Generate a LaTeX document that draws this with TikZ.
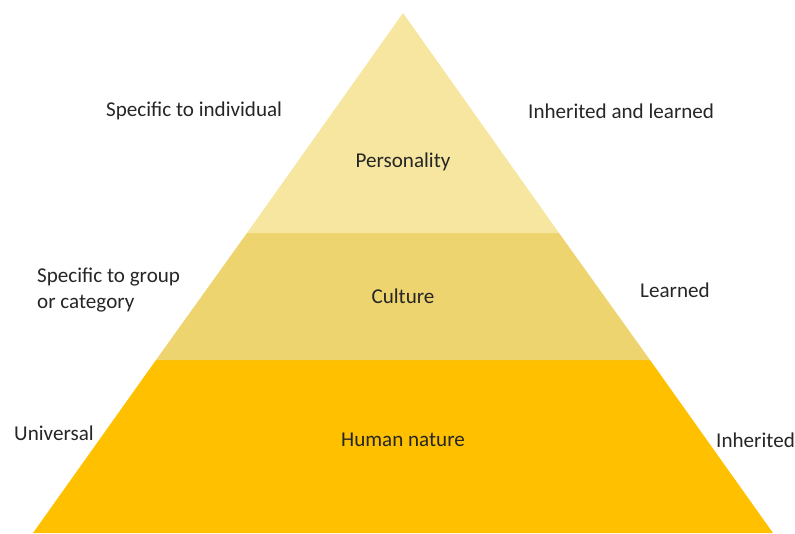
\documentclass[tikz,border=0pt]{standalone}
\usepackage{fontspec}
\setmainfont{Carlito}
\usetikzlibrary{positioning}
\definecolor{toptier}{RGB}{246,230,160}
\definecolor{midtier}{RGB}{237,212,110}
\definecolor{basetier}{RGB}{255,192,0}
\definecolor{labelgray}{RGB}{38,38,38}

\begin{document}
\begin{tikzpicture}[x=0.03cm, y=-0.03cm,
    lbl/.style={font=\fontsize{18}{22}\selectfont, text=labelgray, inner sep=0pt},
    side/.style={lbl, align=left}
]
\useasboundingbox (0,0) rectangle (795,533);
% three bands of the pyramid, apex at (403,13)
\fill[basetier] (156,360) -- (650,360) -- (773,533) -- (33,533) -- cycle;
\fill[midtier] (247,233) -- (559,233) -- (650,360) -- (156,360) -- cycle;
\fill[toptier] (403,13) -- (559,233) -- (247,233) -- cycle;

% band titles
\node[lbl] (person) at (403,162) {Personality};
\node[lbl] (cult) at (403,296) {Culture};
\node[lbl] (human) at (403,440) {Human nature};

% left side
\node[lbl, anchor=west] (indiv) at (106,111) {Specific to individual};
\node[side, anchor=west] (group) at (37,290) {Specific to group\\or category};
\node[lbl, anchor=west] (univ) at (14,433) {Universal};

% right side
\node[lbl, anchor=west] (inhlearn) at (528,111) {Inherited and learned};
\node[lbl, anchor=west] (learn) at (640,290) {Learned};
\node[lbl, anchor=west] (inh) at (716,440) {Inherited};
\end{tikzpicture}
\end{document}
